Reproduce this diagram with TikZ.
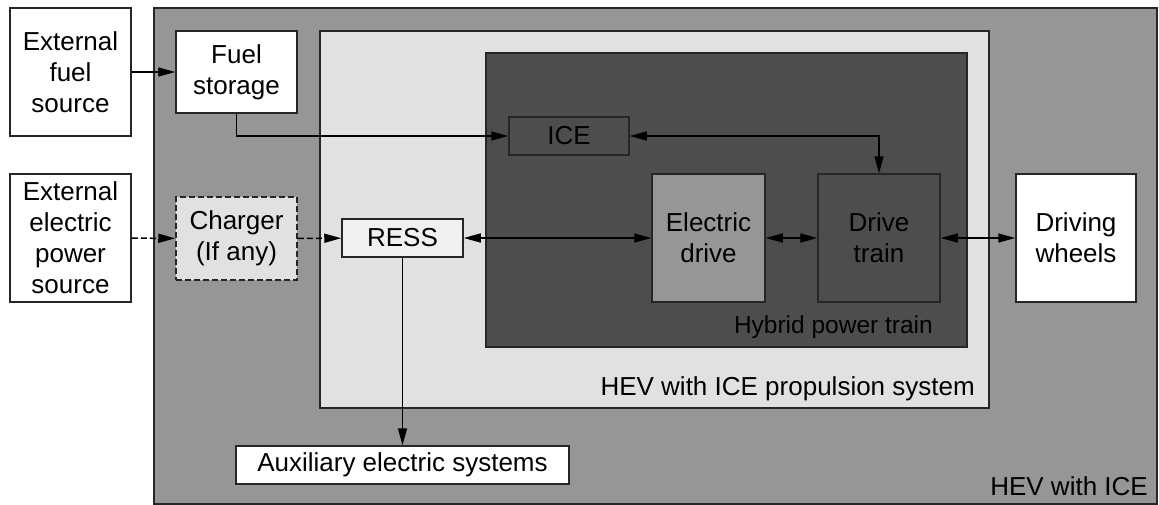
\documentclass[tikz,border=0pt]{standalone}
\usepackage{fontspec}
\setmainfont{Liberation Sans}
\usetikzlibrary{arrows.meta}
\definecolor{midgray}{HTML}{969696}
\definecolor{lightgray}{HTML}{E1E1E1}
\definecolor{darkgray}{HTML}{4D4D4D}
\begin{document}
\begin{tikzpicture}[x=1pt,y=-1pt,
  box/.style={draw=black!85,line width=1.5pt,inner sep=0pt,align=center,
    font=\fontsize{26}{31}\selectfont},
  lbl/.style={inner sep=0pt,font=\fontsize{26}{31}\selectfont},
  arr/.style={line width=1.5pt,-{Triangle[length=17pt,width=9pt]}},
  darr/.style={line width=1.5pt,{Triangle[length=17pt,width=9pt]}-{Triangle[length=17pt,width=9pt]}},
  dsh/.style={dash pattern=on 6pt off 3pt}]
\useasboundingbox (0,0) rectangle (1159,504);
% outer container
\node[box,fill=midgray,minimum width=1003pt,minimum height=496pt] (hev) at (655.5,256) {};
\node[lbl,anchor=base east] (hevl) at (1148,495) {HEV with ICE};
% propulsion system
\node[box,fill=lightgray,minimum width=669pt,minimum height=377pt] (prop) at (654.5,219.5) {};
\node[lbl,anchor=base east] (propl) at (975,395) {HEV with ICE propulsion system};
% hybrid power train
\node[box,fill=darkgray,minimum width=481pt,minimum height=294pt] (hpt) at (726.5,200) {};
\node[lbl,anchor=base east,font=\fontsize{24.5}{30}\selectfont] (hptl) at (933,333) {Hybrid power train};
% boxes
\node[box,fill=white,minimum width=121pt,minimum height=128pt] (extfuel) at (70.5,72) {External\\fuel\\source};
\node[box,fill=white,minimum width=121pt,minimum height=128pt] (extelec) at (70.5,238) {External\\electric\\power\\source};
\node[box,fill=white,minimum width=121pt,minimum height=82pt] (fuel) at (236.5,72) {Fuel\\storage};
\node[box,fill=lightgray,dsh,minimum width=121pt,minimum height=83pt] (charger) at (236.5,238.5) {Charger\\(If any)};
\node[box,fill=darkgray,minimum width=120pt,minimum height=38pt] (ice) at (569,136) {ICE};
\node[box,fill=white!50!lightgray,minimum width=121pt,minimum height=38pt] (ress) at (402.5,238) {RESS};
\node[box,fill=midgray,minimum width=113pt,minimum height=128pt] (edrive) at (708.5,238) {Electric\\drive};
\node[box,fill=darkgray,minimum width=122pt,minimum height=128pt] (dtrain) at (879,238) {Drive\\train};
\node[box,fill=white,minimum width=120pt,minimum height=128pt] (wheels) at (1076,238) {Driving\\wheels};
\node[box,fill=white,minimum width=333pt,minimum height=38pt] (aux) at (402.5,465) {Auxiliary electric systems};
% connectors
\draw[arr] (extfuel) -- (fuel);
\draw[arr] (fuel.south) |- (ice.west);
\draw[darr] (ice.east) -| (dtrain.north);
\draw[arr,dsh] (extelec) -- (charger);
\draw[arr,dsh] (charger) -- (ress);
\draw[darr] (ress) -- (edrive);
\draw[darr] (edrive) -- (dtrain);
\draw[darr] (dtrain) -- (wheels);
\draw[arr] (ress.south) -- (aux.north);
\end{tikzpicture}
\end{document}
